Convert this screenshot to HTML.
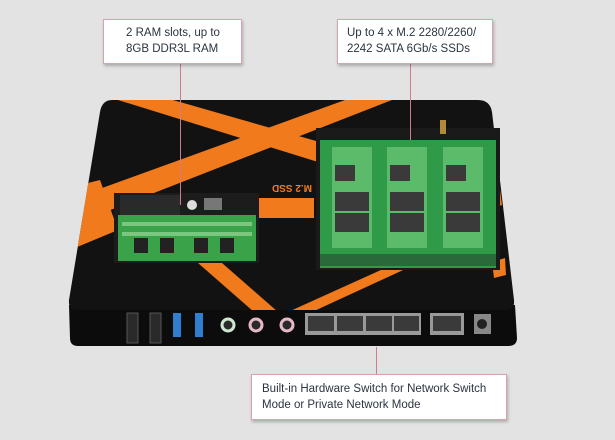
<!DOCTYPE html>
<html><head><meta charset="utf-8"><style>
html,body{margin:0;padding:0;background:#e3e3e3;}
.wrap{position:relative;width:615px;height:440px;overflow:hidden;background:#e3e3e3;}
.box{position:absolute;background:#fff;border:1px solid #d8a3ab;box-shadow:1px 2px 3px rgba(0,0,0,.25);font-family:"Liberation Sans",sans-serif;font-size:11.5px;line-height:16px;color:#2b3440;box-sizing:border-box;}
</style></head><body><div class="wrap">
<svg width="615" height="440" viewBox="0 0 615 440" style="position:absolute;left:0;top:0">
<defs>
<clipPath id="top"><path d="M112,100 L478,100 Q490,100 492,112 L514,300 Q515,310 505,310 L78,310 Q68,310 69,300 L100,112 Q102,100 112,100 Z"/></clipPath>
</defs>
<!-- front face -->
<path d="M69,305 L515,305 L517,338 Q517,346 508,346 L78,346 Q70,346 70,338 Z" fill="#0c0c0c"/>
<!-- top surface -->
<path d="M112,100 L478,100 Q490,100 492,112 L514,300 Q515,310 505,310 L78,310 Q68,310 69,300 L100,112 Q102,100 112,100 Z" fill="#121212"/>
<g clip-path="url(#top)" fill="#f07a1c">
<polygon points="345,100 392,100 90,218 80,196"/>
<polygon points="118,100 173,100 330,145 318,162"/>
<polygon points="60,190 100,180 118,230 70,250"/>
<polygon points="198,263 222,263 278,312 254,312"/>
<polygon points="392,265 414,265 312,312 288,312"/>
<polygon points="484,195 500,190 502,205 488,210"/>
<polygon points="492,262 505,258 506,275 494,278"/>
<text x="258" y="193" font-family="Liberation Sans" font-weight="bold" font-size="10" fill="#f07a1c" transform="rotate(180 285 189)">M.2 SSD</text>
<rect x="258" y="198" width="56" height="20" fill="#f07a1c"/>
</g>
<!-- RAM area -->
<rect x="114" y="193" width="145" height="70" fill="#1c1c1c"/>
<rect x="120" y="195" width="60" height="20" fill="#2a2a2a"/>
<rect x="118" y="215" width="138" height="46" fill="#3aa34a"/>
<rect x="122" y="222" width="130" height="4" fill="#7bc77f"/>
<rect x="122" y="232" width="130" height="4" fill="#7bc77f"/>
<rect x="134" y="238" width="14" height="15" fill="#222"/>
<rect x="160" y="238" width="14" height="15" fill="#222"/>
<rect x="194" y="238" width="14" height="15" fill="#222"/>
<rect x="220" y="238" width="14" height="15" fill="#222"/>
<circle cx="192" cy="205" r="5" fill="#ddd"/>
<rect x="204" y="198" width="18" height="12" fill="#777"/>
<!-- SSD area -->
<rect x="316" y="128" width="184" height="142" fill="#1a1a1a"/>
<rect x="320" y="140" width="176" height="128" fill="#2f9a48"/>
<g fill="#5bbb6b">
<rect x="332" y="147" width="40" height="101"/><rect x="387" y="147" width="40" height="101"/><rect x="443" y="147" width="40" height="101"/>
</g>
<g fill="#3a3a3a">
<rect x="335" y="165" width="20" height="16"/><rect x="390" y="165" width="20" height="16"/><rect x="446" y="165" width="20" height="16"/>
<rect x="335" y="192" width="34" height="19"/><rect x="390" y="192" width="34" height="19"/><rect x="446" y="192" width="34" height="19"/>
<rect x="335" y="213" width="34" height="19"/><rect x="390" y="213" width="34" height="19"/><rect x="446" y="213" width="34" height="19"/>
<rect x="320" y="254" width="176" height="12" fill="#2a6a3a"/>
</g>
<rect x="440" y="120" width="6" height="14" fill="#b08a3a"/>
<!-- front ports -->
<rect x="127" y="313" width="11" height="30" fill="#2a2a2a" stroke="#555"/>
<rect x="150" y="313" width="11" height="30" fill="#2a2a2a" stroke="#555"/>
<rect x="173" y="313" width="8" height="24" fill="#2e7fd0"/>
<rect x="195" y="313" width="8" height="24" fill="#2e7fd0"/>
<circle cx="228" cy="325" r="6" fill="#2a2a2a" stroke="#cfe8cf" stroke-width="3"/>
<circle cx="256" cy="325" r="6" fill="#2a2a2a" stroke="#e8b8c8" stroke-width="3"/>
<circle cx="287" cy="325" r="6" fill="#2a2a2a" stroke="#e8b8c8" stroke-width="3"/>
<rect x="305" y="313" width="116" height="22" fill="#999"/>
<g fill="#3a3a3a"><rect x="308" y="316" width="26" height="15"/><rect x="337" y="316" width="26" height="15"/><rect x="366" y="316" width="26" height="15"/><rect x="394" y="316" width="25" height="15"/></g>
<rect x="430" y="313" width="34" height="22" fill="#999"/>
<rect x="433" y="316" width="28" height="15" fill="#3a3a3a"/>
<rect x="474" y="314" width="17" height="20" fill="#888"/>
<circle cx="482" cy="324" r="5" fill="#222"/>
<!-- leader lines -->
<g stroke="#d37a88" stroke-width="1">
<line x1="180.5" y1="64" x2="180.5" y2="205"/>
<line x1="410.5" y1="64" x2="410.5" y2="140"/>
<line x1="376.5" y1="347" x2="376.5" y2="374"/>
</g>
</svg>
<div class="box" style="left:103px;top:19px;width:139px;height:45px;padding:5px 0 0 22px;">2 RAM slots, up to<br>8GB DDR3L RAM</div>
<div class="box" style="left:337px;top:19px;width:156px;height:45px;padding:5px 0 0 9px;">Up to 4 x M.2 2280/2260/<br>2242 SATA 6Gb/s SSDs</div>
<div class="box" style="left:251px;top:374px;width:256px;height:46px;padding:6px 0 0 10px;">Built-in Hardware Switch for Network Switch<br>Mode or Private Network Mode</div>
</div></body></html>
